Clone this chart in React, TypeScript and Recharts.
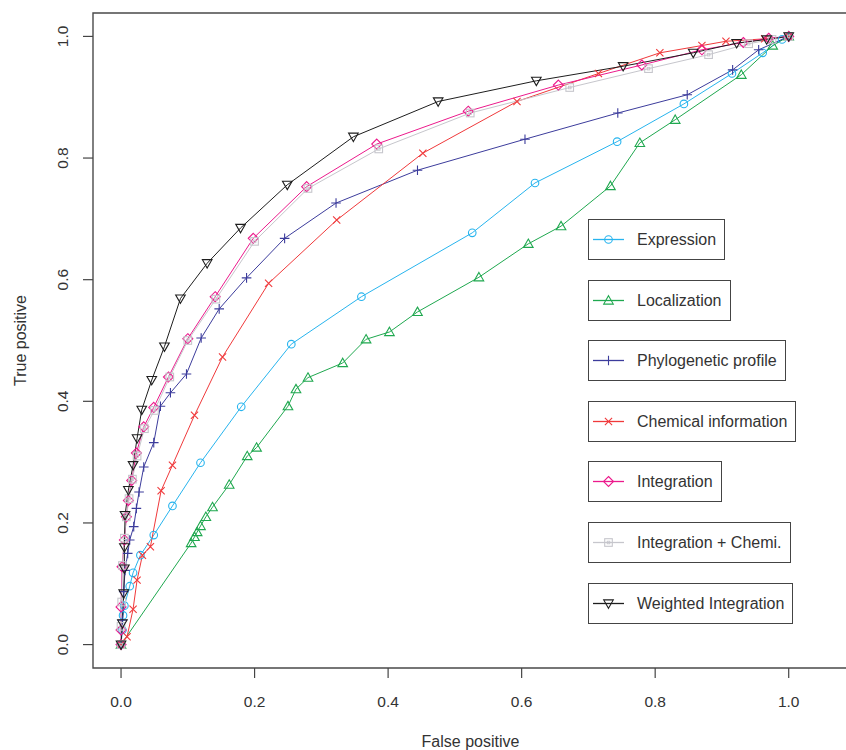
import React from 'react';
import { LineChart, Line, XAxis, YAxis, ReferenceArea, Legend } from 'recharts';

// ---------- data ----------
const axisTicks = [0, 0.2, 0.4, 0.6, 0.8, 1.0];

const expressionFP = [0, 0.002, 0.003, 0.005, 0.013, 0.018, 0.029, 0.049, 0.077, 0.119, 0.18, 0.255, 0.36, 0.526, 0.62, 0.743, 0.843, 0.915, 0.961, 0.99, 1];
const expressionTP = [0, 0.024, 0.048, 0.064, 0.096, 0.118, 0.147, 0.18, 0.228, 0.299, 0.391, 0.494, 0.572, 0.677, 0.759, 0.827, 0.889, 0.939, 0.973, 0.995, 1];

const localizationFP = [0, 0.105, 0.11, 0.114, 0.119, 0.127, 0.137, 0.162, 0.189, 0.203, 0.25, 0.262, 0.28, 0.332, 0.367, 0.402, 0.444, 0.536, 0.61, 0.659, 0.733, 0.777, 0.83, 0.929, 0.976, 1];
const localizationTP = [0, 0.167, 0.177, 0.185, 0.195, 0.21, 0.226, 0.263, 0.31, 0.324, 0.392, 0.42, 0.439, 0.463, 0.502, 0.514, 0.547, 0.604, 0.659, 0.688, 0.754, 0.825, 0.863, 0.937, 0.985, 1];

const phyloFP = [0, 0.002, 0.004, 0.006, 0.01, 0.013, 0.019, 0.023, 0.027, 0.034, 0.049, 0.059, 0.074, 0.098, 0.12, 0.147, 0.188, 0.245, 0.322, 0.444, 0.605, 0.744, 0.848, 0.916, 0.955, 1];
const phyloTP = [0, 0.04, 0.087, 0.122, 0.15, 0.172, 0.194, 0.224, 0.251, 0.292, 0.332, 0.392, 0.414, 0.445, 0.504, 0.552, 0.603, 0.668, 0.726, 0.78, 0.831, 0.874, 0.904, 0.945, 0.978, 1];

const chemicalFP = [0, 0.009, 0.018, 0.024, 0.032, 0.044, 0.06, 0.077, 0.11, 0.152, 0.221, 0.323, 0.452, 0.593, 0.715, 0.807, 0.87, 0.906, 0.964, 1];
const chemicalTP = [0, 0.013, 0.058, 0.106, 0.147, 0.161, 0.253, 0.295, 0.377, 0.473, 0.594, 0.698, 0.808, 0.893, 0.939, 0.973, 0.985, 0.992, 0.996, 1];

const integrationFP = [0, 0, 0, 0.0015, 0.005, 0.008, 0.011, 0.016, 0.023, 0.034, 0.049, 0.071, 0.1, 0.141, 0.198, 0.278, 0.383, 0.52, 0.655, 0.78, 0.87, 0.932, 0.97, 1];
const integrationTP = [0, 0.024, 0.062, 0.128, 0.172, 0.21, 0.237, 0.27, 0.315, 0.358, 0.39, 0.44, 0.503, 0.572, 0.668, 0.753, 0.823, 0.877, 0.92, 0.953, 0.978, 0.99, 0.997, 1];

const intChemFP = [0, 0, 0.001, 0.002, 0.005, 0.008, 0.012, 0.017, 0.024, 0.035, 0.05, 0.073, 0.1, 0.142, 0.2, 0.28, 0.386, 0.523, 0.672, 0.79, 0.88, 0.94, 0.975, 1];
const intChemTP = [0, 0.03, 0.07, 0.13, 0.175, 0.21, 0.24, 0.272, 0.31, 0.355, 0.385, 0.44, 0.5, 0.568, 0.663, 0.75, 0.815, 0.874, 0.916, 0.947, 0.97, 0.988, 0.995, 1];

const weightedFP = [0, 0.002, 0.004, 0.005, 0.005, 0.006, 0.011, 0.018, 0.024, 0.031, 0.046, 0.065, 0.089, 0.129, 0.179, 0.249, 0.348, 0.475, 0.622, 0.752, 0.857, 0.922, 0.967, 1];
const weightedTP = [0, 0.035, 0.084, 0.125, 0.16, 0.213, 0.254, 0.295, 0.339, 0.386, 0.435, 0.49, 0.569, 0.627, 0.685, 0.756, 0.835, 0.893, 0.927, 0.951, 0.973, 0.989, 0.995, 1];

const seriesNames = ['Expression', 'Localization', 'Phylogenetic profile', 'Chemical information', 'Integration', 'Integration + Chemi.', 'Weighted Integration'];
const seriesColors = ['#27b4ee', '#1fa84f', '#3c3c9c', '#f0393b', '#ec1a8c', '#c6c6cc', '#1e1e1e'];
const seriesShapes = ['circle', 'triUp', 'plus', 'cross', 'diamond', 'squareDot', 'triDown'];
const seriesFP = [expressionFP, localizationFP, phyloFP, chemicalFP, integrationFP, intChemFP, weightedFP];
const seriesTP = [expressionTP, localizationTP, phyloTP, chemicalTP, integrationTP, intChemTP, weightedTP];

const series = seriesNames.map((name, i) => ({
  name,
  color: seriesColors[i],
  shape: seriesShapes[i],
  data: seriesFP[i].map((x, j) => ({ x, y: seriesTP[i][j] })),
}));

// ---------- styling ----------
const FONT = "'Liberation Sans', Arial, Helvetica, sans-serif";
const TEXT = '#333';
const X_DOMAIN: [number, number] = [-0.042, 1.0888];
const Y_DOMAIN: [number, number] = [-0.0385, 1.0385];

function Marker({ shape, cx, cy, color }: { shape: string; cx: number; cy: number; color: string }) {
  const sw = 1.1;
  switch (shape) {
    case 'circle':
      return <circle cx={cx} cy={cy} r={3.8} fill="none" stroke={color} strokeWidth={sw} />;
    case 'triUp':
      return <polygon points={`${cx},${cy - 4.8} ${cx + 4.8},${cy + 3.6} ${cx - 4.8},${cy + 3.6}`} fill="none" stroke={color} strokeWidth={sw} />;
    case 'triDown':
      return <polygon points={`${cx},${cy + 4.8} ${cx + 4.8},${cy - 3.6} ${cx - 4.8},${cy - 3.6}`} fill="none" stroke={color} strokeWidth={sw} />;
    case 'plus':
      return <path d={`M${cx - 4.8},${cy}h9.6M${cx},${cy - 4.8}v9.6`} stroke={color} strokeWidth={sw} fill="none" />;
    case 'cross':
      return <path d={`M${cx - 3.6},${cy - 3.6}l7.2,7.2M${cx - 3.6},${cy + 3.6}l7.2,-7.2`} stroke={color} strokeWidth={sw} fill="none" />;
    case 'diamond':
      return <polygon points={`${cx},${cy - 5} ${cx + 5},${cy} ${cx},${cy + 5} ${cx - 5},${cy}`} fill="none" stroke={color} strokeWidth={sw} />;
    case 'squareDot':
      return (
        <g>
          <rect x={cx - 3.8} y={cy - 3.8} width={7.6} height={7.6} fill="none" stroke={color} strokeWidth={sw} />
          <rect x={cx - 1.3} y={cy - 1.3} width={2.6} height={2.6} fill="none" stroke={color} strokeWidth={0.9} />
        </g>
      );
    default:
      return null;
  }
}

const XTick = (props: any) => {
  const { x, y, payload } = props;
  return (
    <text x={x} y={y + 21} textAnchor="middle" dominantBaseline="central" fontFamily={FONT} fontSize={15.5} fill={TEXT}>
      {Number(payload.value).toFixed(1)}
    </text>
  );
};

const YTick = (props: any) => {
  const { x, y, payload } = props;
  return (
    <text transform={`translate(${x - 19},${y}) rotate(-90)`} textAnchor="middle" dominantBaseline="central" fontFamily={FONT} fontSize={15.5} fill={TEXT}>
      {Number(payload.value).toFixed(1)}
    </text>
  );
};

const YLabel = (props: any) => {
  const vb = props.viewBox || { x: 0, y: 13, width: 93, height: 655 };
  return (
    <text transform={`translate(${vb.x + 20},${vb.y + vb.height / 2}) rotate(-90)`} textAnchor="middle" dominantBaseline="central" fontFamily={FONT} fontSize={16} fill={TEXT}>
      True positive
    </text>
  );
};

const LegendBoxes = () => (
  <div style={{ position: 'relative', fontFamily: FONT, fontSize: 16, color: TEXT }}>
    {series.map((s, i) => (
      <div
        key={s.name}
        style={{
          position: 'absolute',
          left: 0,
          top: i * 60.6,
          height: 39,
          border: '1.4px solid #444',
          display: 'flex',
          alignItems: 'center',
          whiteSpace: 'nowrap',
          paddingRight: 8,
          boxSizing: 'content-box',
          background: '#fff',
        }}
      >
        <svg width={48} height={39} style={{ display: 'block', flex: 'none' }}>
          <line x1={4} y1={19.5} x2={35} y2={19.5} stroke={s.color} strokeWidth={1.3} />
          <Marker shape={s.shape} cx={19.5} cy={19.5} color={s.color} />
        </svg>
        <span style={{ lineHeight: '39px' }}>{s.name}</span>
      </div>
    ))}
  </div>
);

export default function App() {
  return (
    <div style={{ position: 'absolute', left: 0, top: 0, width: 846, height: 750, overflow: 'hidden', background: '#fff' }}>
      <LineChart width={860} height={750} margin={{ top: 13, right: 12, bottom: 0, left: 0 }}>
        <ReferenceArea x1={X_DOMAIN[0]} x2={X_DOMAIN[1]} y1={Y_DOMAIN[0]} y2={Y_DOMAIN[1]} fill="none" fillOpacity={0} stroke="#4a4a4a" strokeWidth={1.4} ifOverflow="visible" />
        <XAxis
          type="number"
          dataKey="x"
          domain={X_DOMAIN}
          allowDataOverflow
          ticks={axisTicks}
          interval={0}
          height={82}
          tickSize={10}
          axisLine={false}
          tickLine={{ stroke: '#444', strokeWidth: 1.2 }}
          tick={XTick}
          label={{ value: 'False positive', position: 'insideBottom', offset: 3, style: { fontFamily: FONT, fontSize: 16, fill: TEXT } }}
        />
        <YAxis
          type="number"
          domain={Y_DOMAIN}
          allowDataOverflow
          ticks={axisTicks}
          interval={0}
          width={93}
          tickSize={10}
          axisLine={false}
          tickLine={{ stroke: '#444', strokeWidth: 1.2 }}
          tick={YTick}
          label={YLabel}
        />
        {series.map((s) => (
          <Line
            key={s.name}
            name={s.name}
            data={s.data}
            dataKey="y"
            type="linear"
            stroke={s.color}
            strokeWidth={1}
            isAnimationActive={false}
            activeDot={false}
            dot={(p: any) => (
              <g key={`${s.name}-${p.index}`}>
                <Marker shape={s.shape} cx={p.cx} cy={p.cy} color={s.color} />
              </g>
            )}
          />
        ))}
        <Legend
          layout="horizontal"
          verticalAlign="middle"
          align="center"
          wrapperStyle={{ position: 'absolute', left: 588, top: 219, width: 250, height: 410 }}
          content={LegendBoxes}
        />
      </LineChart>
    </div>
  );
}
